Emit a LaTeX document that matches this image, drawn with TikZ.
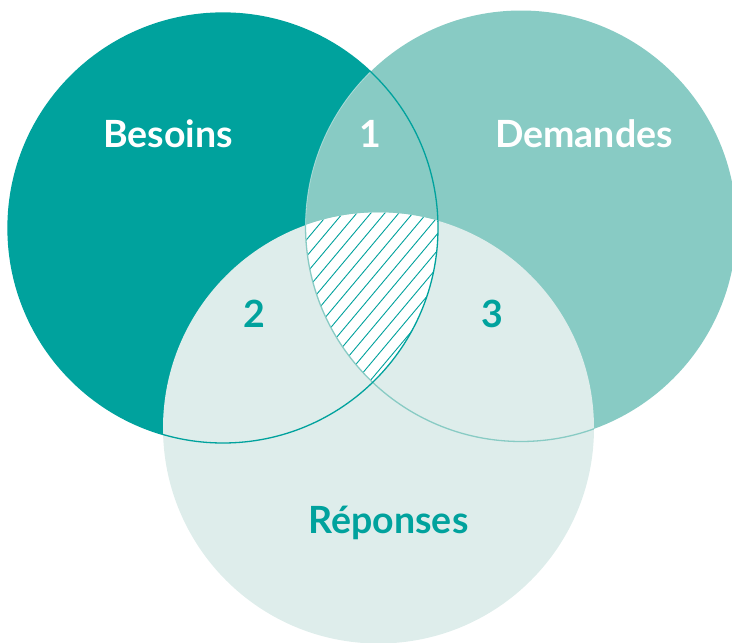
\documentclass[tikz,border=0pt]{standalone}
\usepackage{fontspec}
\setmainfont{Lato}
\definecolor{tealdark}{HTML}{00A29D}
\definecolor{teallight}{HTML}{88CBC4}
\definecolor{tealpale}{HTML}{DEEDEB}
\begin{document}
\begin{tikzpicture}[x=1pt,y=-1pt,
  lbl/.style={anchor=base,font=\fontsize{37.5}{42}\selectfont\bfseries},
  hatchline/.style={draw=tealdark,line width=0.9pt}]
\useasboundingbox (0,0) rectangle (732,643);
\coordinate (cB) at (223,228);
\coordinate (cD) at (521,226);
\coordinate (cR) at (378.5,428);
\def\rB{215}\def\rD{215.5}\def\rR{215.5}
% Besoins
\fill[tealdark] (cB) circle[radius=\rB];
% Demandes
\fill[teallight] (cD) circle[radius=\rD];
\begin{scope}
\clip (cB) circle[radius=\rB];
\draw[white,opacity=0.45,line width=0.8pt] (cD) circle[radius=\rD];
\end{scope}
\draw[tealdark,line width=1.3pt] (cB) circle[radius=\rB];
% Reponses
\fill[tealpale] (cR) circle[radius=\rR];
% hatched triple intersection
\begin{scope}
\clip (cB) circle[radius=\rB];
\clip (cD) circle[radius=\rD];
\clip (cR) circle[radius=\rR];
\fill[white] (280,190) rectangle (460,400);
\foreach \x in {130,144,...,460}
  \draw[hatchline] (\x,400) -- ++(170,-202.6);
\end{scope}
% arcs inside Reponses
\begin{scope}
\clip (cR) circle[radius=\rR];
\draw[teallight,line width=1.3pt] (cD) circle[radius=\rD];
\draw[tealdark,line width=1.3pt] (cB) circle[radius=\rB];
\end{scope}
% labels
\node[lbl,text=white] (besoins) at (168,147) {Besoins};
\node[lbl,text=white] (demandes) at (584,147) {Demandes};
\node[lbl,text=white] (un) at (370,147) {1};
\node[lbl,text=tealdark] (deux) at (254,327) {2};
\node[lbl,text=tealdark] (trois) at (492.5,327) {3};
\node[lbl,text=tealdark] (reponses) at (388.5,533) {Réponses};
\end{tikzpicture}
\end{document}
